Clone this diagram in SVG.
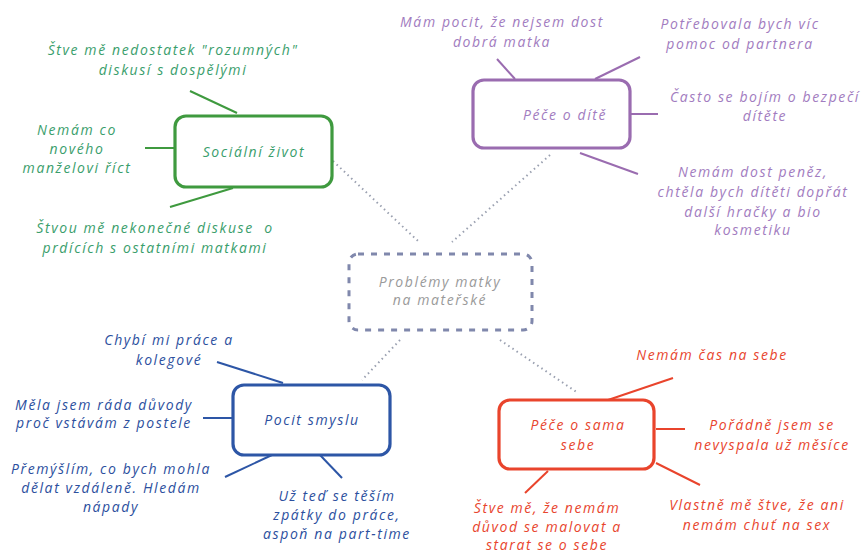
<svg xmlns="http://www.w3.org/2000/svg" width="868" height="554" viewBox="0 0 868 554">
<style>
text{font-family:"Open Sans","Noto Sans","DejaVu Sans",sans-serif;font-style:italic;font-size:14px;letter-spacing:1.6px;text-anchor:middle}
.box{fill:#fff;stroke-width:3.2}
.g{fill:#3a9e6c}.gs{stroke:#3f9a3f}
.p{fill:#a27cc0}.ps{stroke:#9a6cb0}
.b{fill:#2c4f9e}.bs{stroke:#2d56a6}
.r{fill:#e8452e}.rs{stroke:#e9442c}
.ln{stroke-width:2;fill:none}
.dot{stroke:#9aa0b0;stroke-width:2;stroke-dasharray:1.5 3.5;fill:none}
</style>
<rect width="868" height="554" fill="#fff"/>
<g id="connectors">
<path class="dot" d="M333 161 L418 241"/>
<path class="dot" d="M550 155 L452 242"/>
<path class="dot" d="M400 340 L362 380"/>
<path class="dot" d="M500 340 L578 393"/>
<path class="ln gs" d="M190 91 L237 113"/>
<path class="ln gs" d="M145 148 L174 148"/>
<path class="ln gs" d="M170 207 L233 188"/>
<path class="ln ps" d="M497 59 L515 79"/>
<path class="ln ps" d="M595 79 L640 57"/>
<path class="ln ps" d="M630 114 L658 114"/>
<path class="ln ps" d="M580 153 L638 174"/>
<path class="ln bs" d="M217 362 L283 383"/>
<path class="ln bs" d="M203 418 L232 418"/>
<path class="ln bs" d="M225 477 L272 455"/>
<path class="ln bs" d="M320 455 L342 478"/>
<path class="ln rs" d="M608 400 L673 378"/>
<path class="ln rs" d="M656 429 L685 429"/>
<path class="ln rs" d="M656 463 L700 485"/>
<path class="ln rs" d="M548 471 L525 493"/>
</g>
<g id="center">
<rect x="349" y="254" width="183" height="76" rx="9" fill="#fff" stroke="#8088ac" stroke-width="3" stroke-dasharray="6 7"/>
<text x="440" y="287" fill="#9a9a9a">Problémy matky</text>
<text x="440" y="305" fill="#9a9a9a">na mateřské</text>
</g>
<g id="socialni">
<rect class="box gs" x="175" y="116" width="157" height="71" rx="11"/>
<text class="g" x="254" y="157">Sociální život</text>
<text class="g" x="173" y="55">Štve mě nedostatek "rozumných"</text>
<text class="g" x="173" y="75">diskusí s dospělými</text>
<text class="g" x="77" y="135">Nemám co</text>
<text class="g" x="77" y="154">nového</text>
<text class="g" x="77" y="173">manželovi říct</text>
<text class="g" x="155" y="233" style="white-space:pre">Štvou mě nekonečné diskuse  o</text>
<text class="g" x="155" y="253">prdících s ostatními matkami</text>
</g>
<g id="pece-dite">
<rect class="box ps" x="473" y="80" width="157" height="68" rx="11"/>
<text class="p" x="565" y="120">Péče o dítě</text>
<text class="p" x="502" y="27">Mám pocit, že nejsem dost</text>
<text class="p" x="502" y="47">dobrá matka</text>
<text class="p" x="740" y="29">Potřebovala bych víc</text>
<text class="p" x="740" y="49">pomoc od partnera</text>
<text class="p" x="765" y="102">Často se bojím o bezpečí</text>
<text class="p" x="765" y="121">dítěte</text>
<text class="p" x="753" y="177">Nemám dost peněz,</text>
<text class="p" x="753" y="197">chtěla bych dítěti dopřát</text>
<text class="p" x="753" y="217">další hračky a bio</text>
<text class="p" x="753" y="235">kosmetiku</text>
</g>
<g id="pocit-smyslu">
<rect class="box bs" x="233" y="385" width="157" height="70" rx="11"/>
<text class="b" x="312" y="425">Pocit smyslu</text>
<text class="b" x="169" y="345">Chybí mi práce a</text>
<text class="b" x="169" y="365">kolegové</text>
<text class="b" x="104" y="410">Měla jsem ráda důvody</text>
<text class="b" x="104" y="428">proč vstávám z postele</text>
<text class="b" x="111" y="474">Přemýšlím, co bych mohla</text>
<text class="b" x="111" y="493">dělat vzdáleně. Hledám</text>
<text class="b" x="111" y="512">nápady</text>
<text class="b" x="337" y="501">Už teď se těším</text>
<text class="b" x="337" y="520">zpátky do práce,</text>
<text class="b" x="337" y="539">aspoň na part-time</text>
</g>
<g id="pece-sebe">
<rect class="box rs" x="499" y="400" width="155" height="69" rx="11"/>
<text class="r" x="578" y="430">Péče o sama</text>
<text class="r" x="578" y="450">sebe</text>
<text class="r" x="712" y="360">Nemám čas na sebe</text>
<text class="r" x="772" y="430">Pořádně jsem se</text>
<text class="r" x="772" y="450">nevyspala už měsíce</text>
<text class="r" x="757" y="510">Vlastně mě štve, že ani</text>
<text class="r" x="757" y="530">nemám chuť na sex</text>
<text class="r" x="547" y="513">Štve mě, že nemám</text>
<text class="r" x="547" y="532">důvod se malovat a</text>
<text class="r" x="547" y="550">starat se o sebe</text>
</g>
</svg>
